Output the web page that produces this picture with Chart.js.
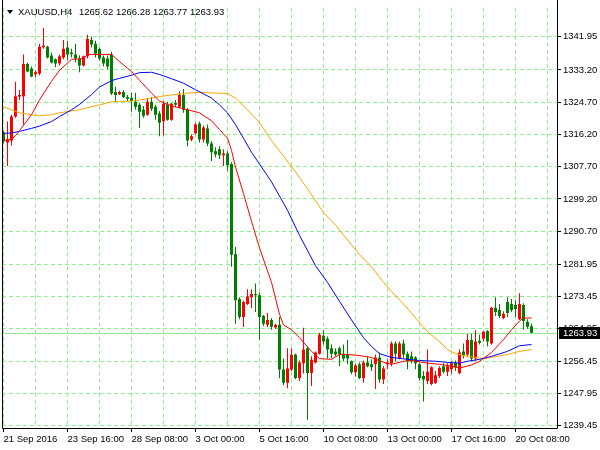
<!DOCTYPE html>
<html><head><meta charset="utf-8">
<script src="https://cdn.jsdelivr.net/npm/chart.js@4/dist/chart.umd.min.js"></script>
<style>html,body{margin:0;padding:0;background:#fff;}#wrap{width:600px;height:450px;}</style>
</head><body><div id="wrap"><canvas id="c" width="600" height="450"></canvas></div>
<script>
const symbolTitle = 'XAUUSD,H4';
const lastOHLC = [1265.62, 1266.28, 1263.77, 1263.93];
const xTickLabels = ['21 Sep 2016','23 Sep 16:00','28 Sep 08:00','3 Oct 00:00','5 Oct 16:00','10 Oct 08:00','13 Oct 00:00','17 Oct 16:00','20 Oct 08:00'];
const yTickValues = [1341.95,1333.20,1324.70,1316.20,1307.70,1299.20,1290.70,1281.95,1273.45,1264.95,1256.45,1247.95,1239.45];

const opens = [1316.7,1314.1,1314.6,1320.9,1326.2,1326.3,1334.8,1333.6,1332.1,1332.3,
1339.2,1339.3,1337.0,1336.0,1334.9,1336.5,1339.1,1337.8,1337.3,1336.2,
1334.4,1336.8,1341.2,1340.1,1338.7,1336.5,1336.2,1337.3,1327.4,1326.8,
1327.4,1326.1,1325.8,1324.8,1324.0,1322.7,1321.4,1324.8,1323.5,1321.7,
1319.7,1324.0,1320.1,1324.5,1323.5,1326.6,1322.7,1314.9,1316.5,1319.1,
1314.9,1317.8,1313.8,1311.8,1312.3,1310.7,1311.2,1308.4,1284.7,1272.8,
1268.1,1271.5,1273.3,1274.1,1273.8,1268.3,1266.0,1267.3,1265.3,1266.0,
1254.2,1250.7,1254.2,1258.2,1252.0,1255.9,1259.8,1253.3,1256.1,1258.4,
1263.1,1262.3,1259.8,1259.0,1259.8,1258.4,1258.2,1256.4,1253.5,1255.6,
1252.0,1256.1,1255.6,1255.6,1257.4,1251.6,1255.6,1255.9,1261.1,1257.1,
1261.1,1258.4,1257.7,1257.4,1255.6,1252.5,1251.2,1250.4,1250.7,1252.5,
1255.1,1253.6,1254.3,1256.1,1253.3,1259.0,1258.2,1262.0,1257.1,1261.8,
1262.3,1264.4,1261.1,1270.5,1269.9,1267.8,1272.0,1271.5,1271.2,1267.5,
1271.2,1266.8,1265.62];
const highs = [1317.2,1319.6,1321.4,1330.1,1327.9,1337.3,1335.1,1334.1,1333.1,1340.1,
1344.3,1339.6,1337.8,1336.2,1337.3,1341.1,1340.9,1338.8,1340.1,1337.0,
1337.0,1342.5,1342.0,1340.9,1339.1,1337.0,1337.0,1338.0,1328.8,1327.7,
1327.9,1326.6,1327.1,1327.1,1324.5,1323.7,1325.8,1326.1,1324.0,1322.4,
1325.0,1324.8,1324.5,1325.3,1327.6,1328.2,1323.2,1316.2,1319.3,1319.6,
1318.5,1318.8,1314.4,1312.8,1313.1,1312.3,1311.8,1308.9,1286.5,1273.3,
1272.4,1275.4,1275.4,1276.9,1274.6,1268.6,1269.1,1267.8,1266.3,1268.1,
1257.1,1259.8,1259.8,1258.4,1256.6,1265.2,1260.3,1257.7,1259.0,1263.9,
1264.6,1262.9,1260.8,1259.8,1260.3,1260.8,1262.1,1256.6,1255.8,1256.1,
1256.6,1257.7,1256.9,1258.2,1258.7,1255.1,1256.9,1261.6,1261.6,1261.6,
1262.1,1259.0,1259.0,1257.7,1256.1,1253.8,1259.5,1255.1,1253.8,1255.1,
1255.9,1255.9,1256.4,1256.6,1259.5,1261.1,1263.6,1263.6,1264.6,1263.4,
1264.4,1264.6,1270.7,1273.3,1271.5,1269.6,1273.3,1272.8,1272.5,1274.3,
1271.7,1267.5,1266.28];
const lows = [1313.9,1307.9,1313.3,1320.6,1325.3,1318.8,1332.6,1331.3,1331.3,1331.8,
1338.8,1336.2,1334.9,1333.9,1334.4,1336.0,1335.7,1336.5,1335.2,1332.6,
1334.1,1336.2,1339.1,1336.5,1335.7,1334.1,1333.4,1326.6,1324.8,1326.6,
1325.8,1325.0,1322.2,1322.7,1317.9,1320.6,1321.1,1322.4,1320.1,1315.7,
1315.9,1319.8,1319.8,1323.5,1323.2,1321.9,1313.1,1314.4,1316.2,1314.1,
1314.1,1313.1,1309.2,1310.2,1309.7,1307.9,1306.6,1281.3,1266.3,1267.5,
1265.4,1271.2,1270.4,1269.4,1262.1,1265.7,1265.4,1264.7,1264.9,1251.9,
1250.1,1249.3,1253.8,1251.7,1251.2,1253.2,1241.0,1249.9,1255.8,1258.2,
1260.8,1257.1,1257.1,1257.7,1255.1,1256.4,1255.6,1253.0,1252.4,1251.7,
1250.7,1254.8,1253.8,1249.1,1250.7,1250.4,1254.3,1255.1,1256.4,1256.9,
1257.1,1254.3,1255.9,1254.3,1251.4,1245.8,1250.4,1250.1,1250.4,1252.0,
1253.2,1252.5,1253.2,1253.8,1253.0,1257.1,1257.7,1256.4,1256.4,1260.8,
1261.6,1260.3,1260.8,1268.3,1267.8,1267.5,1268.1,1269.4,1268.1,1267.3,
1264.7,1265.0,1263.77];
const closes = [1314.4,1314.9,1320.9,1326.3,1326.6,1334.8,1332.8,1331.5,1332.6,1339.3,
1339.6,1336.5,1335.2,1334.9,1336.8,1338.8,1337.3,1337.4,1336.2,1334.4,
1336.8,1341.4,1339.9,1337.5,1336.2,1334.9,1334.1,1327.0,1326.6,1327.4,
1326.1,1325.6,1325.0,1323.5,1322.2,1321.1,1324.8,1323.0,1321.4,1319.3,
1324.3,1320.1,1324.3,1324.0,1326.6,1322.7,1314.6,1315.7,1318.8,1314.9,
1318.0,1313.8,1311.5,1311.0,1310.7,1311.2,1308.1,1284.5,1272.5,1268.1,
1272.0,1273.5,1274.1,1273.8,1268.1,1266.3,1267.3,1265.5,1266.0,1254.2,
1250.7,1254.5,1258.1,1252.0,1256.1,1259.5,1253.3,1256.8,1258.7,1263.4,
1261.6,1259.5,1258.4,1258.2,1258.2,1257.1,1257.1,1253.5,1255.3,1252.0,
1256.1,1255.1,1254.8,1257.4,1251.6,1254.5,1256.1,1261.1,1258.4,1261.1,
1258.2,1256.4,1256.4,1255.9,1252.0,1251.6,1253.6,1254.8,1252.7,1254.6,
1253.6,1255.1,1255.9,1254.8,1258.7,1257.9,1262.0,1257.1,1261.6,1261.3,
1264.2,1261.6,1270.5,1269.4,1268.3,1268.9,1269.1,1269.9,1270.2,1271.5,
1267.0,1265.5,1263.93];

const maRedBars = [0,2,3,4,7,9,12,14,17,20,21,27,29,32,34,37,39,42,45,49,52,54,56,57,58,60,62,64,67,69,70,72,74,77,79,82,84,86,89,92,95,97,100,102,106,109,112,114,117,119,122,125,127,129,130,132];
const maRedVals = [1314.6,1314.9,1315.9,1317.2,1321.4,1325.3,1330.2,1333.1,1336.0,1336.2,1337.3,1337.3,1335.4,1332.8,1330.5,1327.1,1325.0,1323.7,1323.0,1321.9,1319.8,1317.5,1315.2,1312.0,1307.6,1300.6,1293.3,1286.3,1277.2,1268.8,1266.0,1264.7,1262.6,1259.0,1257.1,1256.9,1258.2,1258.2,1257.9,1257.4,1256.1,1255.6,1256.4,1256.6,1255.9,1255.6,1255.1,1254.6,1255.4,1256.4,1258.7,1262.1,1264.7,1267.0,1267.8,1267.8];
const maBlueBars = [0,2,4,7,9,12,14,17,19,22,24,27,29,32,34,37,39,42,45,48,52,54,56,58,60,62,64,67,71,74,78,81,84,87,90,92,94,97,101,104,108,111,114,116,119,122,126,129,132];
const maBlueVals = [1316.5,1316.6,1317.0,1317.8,1318.4,1319.6,1320.9,1322.7,1324.1,1326.7,1328.7,1330.4,1331.0,1331.8,1332.5,1332.6,1332.0,1330.9,1329.7,1328.0,1325.8,1324.0,1321.9,1318.8,1315.2,1311.5,1308.4,1303.7,1296.2,1289.6,1281.6,1277.2,1272.2,1267.3,1262.6,1260.3,1258.4,1257.4,1256.9,1256.6,1256.4,1256.1,1255.9,1256.4,1256.9,1257.7,1259.0,1260.5,1260.8];
const maOrangeBars = [0,2,4,7,9,12,14,17,19,22,24,27,29,32,34,37,39,42,45,49,53,56,58,61,64,67,70,73,76,80,83,86,89,92,95,97,100,102,106,109,111,113,115,118,120,122,126,129,132];
const maOrangeVals = [1323.5,1322.7,1321.9,1321.4,1321.1,1321.4,1321.9,1322.4,1322.7,1323.5,1324.0,1324.8,1324.9,1325.0,1325.3,1325.8,1326.2,1326.6,1327.0,1327.3,1327.1,1327.0,1325.8,1322.7,1319.3,1314.6,1310.5,1306.3,1301.9,1295.6,1292.3,1288.4,1284.5,1281.3,1277.2,1274.8,1271.5,1269.1,1264.2,1261.6,1259.5,1258.4,1257.9,1257.4,1257.1,1257.4,1258.2,1259.0,1259.5];

const gridColor = '#90EE90';
const upColor = '#FF0000';
const downColor = '#008000';
const fontSpec = {family: '"Liberation Sans", Arial, sans-serif', size: 9.5};

const idx = opens.map((_, i) => i);
const candleColors = idx.map(i => closes[i] > opens[i] ? upColor : downColor);
const bodyData = idx.map(i => ({x: i, y: [opens[i], closes[i]]}));
const wickData = idx.map(i => ({x: i, y: [lows[i], highs[i]]}));
const toPts = (bars, vals) => bars.map((b, k) => ({x: b, y: vals[k]}));

const mt4Plugin = {
  id: 'mt4',
  beforeDraw(chart) {
    const c = chart.ctx;
    c.save(); c.fillStyle = '#fff'; c.fillRect(0, 0, chart.width, chart.height); c.restore();
  },
  beforeDatasetsDraw(chart) {
    const c = chart.ctx, a = chart.chartArea, y = chart.scales.y;
    const py = Math.round(y.getPixelForValue(lastOHLC[3])) + 0.5;
    c.save(); c.strokeStyle = gridColor; c.lineWidth = 1;
    c.beginPath(); c.moveTo(a.left, py); c.lineTo(a.right, py); c.stroke(); c.restore();
  },
  afterDraw(chart) {
    const c = chart.ctx, a = chart.chartArea, y = chart.scales.y;
    c.save();
    c.strokeStyle = '#000'; c.lineWidth = 1;
    c.beginPath();
    c.moveTo(a.left + 0.5, 0); c.lineTo(a.left + 0.5, a.bottom + 0.5);
    c.lineTo(a.right + 0.5, a.bottom + 0.5); c.lineTo(a.right + 0.5, 0);
    c.stroke();
    const py = Math.round(y.getPixelForValue(lastOHLC[3]));
    c.fillStyle = '#000';
    c.fillRect(a.right + 2, py - 6, chart.width - a.right - 2, 12);
    c.font = '9.5px "Liberation Sans", Arial, sans-serif';
    c.textBaseline = 'middle'; c.textAlign = 'left';
    c.fillStyle = '#fff';
    c.fillText(lastOHLC[3].toFixed(2), a.right + 6, py + 0.5);
    c.fillStyle = '#000';
    c.beginPath(); c.moveTo(7, 10); c.lineTo(13, 10); c.lineTo(10, 14); c.closePath(); c.fill();
    c.fillText(symbolTitle, 18, 12);
    c.fillText(lastOHLC.map(v => v.toFixed(2)).join(' '), 79, 12);
    c.restore();
  }
};

Chart.defaults.font.family = fontSpec.family;
Chart.defaults.font.size = fontSpec.size;

new Chart(document.getElementById('c'), {
  type: 'bar',
  data: {
    datasets: [
      {type: 'line', data: toPts(maRedBars, maRedVals), borderColor: '#FF0000', borderWidth: 1, pointRadius: 0, fill: false, tension: 0, order: 0},
      {type: 'line', data: toPts(maBlueBars, maBlueVals), borderColor: '#0000FF', borderWidth: 1, pointRadius: 0, fill: false, tension: 0, order: 0},
      {type: 'line', data: toPts(maOrangeBars, maOrangeVals), borderColor: '#FFA500', borderWidth: 1, pointRadius: 0, fill: false, tension: 0, order: 0},
      {type: 'bar', data: bodyData, backgroundColor: candleColors, borderWidth: 0, barThickness: 3, grouped: false, minBarLength: 1, inflateAmount: 0, order: 1},
      {type: 'bar', data: wickData, backgroundColor: candleColors, borderWidth: 0, barThickness: 1, grouped: false, minBarLength: 1, inflateAmount: 0, order: 2}
    ]
  },
  options: {
    responsive: false,
    devicePixelRatio: 1,
    animation: false,
    events: [],
    layout: {padding: {left: 2, top: 2, right: 0, bottom: 0}},
    plugins: {legend: {display: false}, tooltip: {enabled: false}, title: {display: false}},
    scales: {
      x: {
        type: 'linear', min: -0.375, max: 138.375, offset: false,
        afterBuildTicks: s => { const t = []; for (let v = 0; v <= 136; v += 8) t.push({value: v}); s.ticks = t; },
        afterFit: s => { s.height = 22; },
        grid: {offset: false, color: gridColor, lineWidth: 1, drawTicks: true, tickLength: 4,
               tickColor: ctx => (ctx.tick && ctx.tick.value % 16 === 0) ? '#000' : 'rgba(0,0,0,0)', tickBorderDash: []},
        border: {display: false, dash: [4, 3]},
        ticks: {autoSkip: false, maxRotation: 0, minRotation: 0, align: 'start', padding: 2, color: '#000', font: fontSpec,
                callback: v => (v % 16 === 0 ? (xTickLabels[v / 16] || '') : '')}
      },
      y: {
        type: 'linear', position: 'right', min: 1238.80, max: 1349.62,
        afterBuildTicks: s => { s.ticks = yTickValues.map(v => ({value: v})); },
        afterFit: s => { s.width = 43; },
        grid: {color: gridColor, lineWidth: 1, drawTicks: true, tickLength: 4, tickColor: '#000', tickBorderDash: []},
        border: {display: false, dash: [4, 3]},
        ticks: {autoSkip: false, padding: 2, color: '#000', font: fontSpec, callback: v => Number(v).toFixed(2)}
      }
    }
  },
  plugins: [mt4Plugin]
});
</script>
</body></html>
